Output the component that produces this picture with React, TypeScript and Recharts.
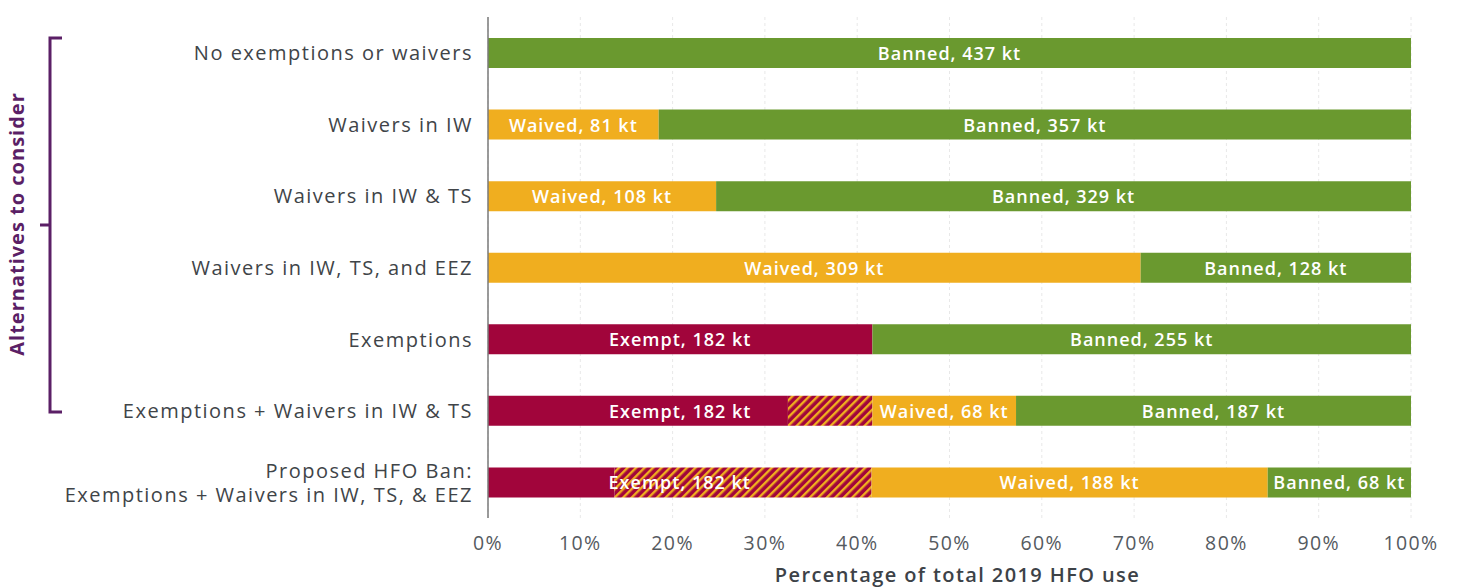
import React from "react";
import { BarChart, Bar, XAxis, YAxis, CartesianGrid, LabelList } from "recharts";

const categories = [
  "No exemptions or waivers",
  "Waivers in IW",
  "Waivers in IW & TS",
  "Waivers in IW, TS, and EEZ",
  "Exemptions",
  "Exemptions + Waivers in IW & TS",
  "Proposed HFO Ban:\nExemptions + Waivers in IW, TS, & EEZ",
];
const exemptSolid = [0, 0, 0, 0, 182, 142, 60];
const exemptHatched = [0, 0, 0, 0, 0, 40, 122];
const exemptTotal = [0, 0, 0, 0, 182, 182, 182];
const waived = [0, 81, 108, 309, 0, 68, 188];
const banned = [437, 357, 329, 128, 255, 187, 68];
const xTicks = [0, 0.1, 0.2, 0.3, 0.4, 0.5, 0.6, 0.7, 0.8, 0.9, 1];

const data = categories.map((c, i) => ({
  name: c,
  idx: i,
  exemptSolid: exemptSolid[i],
  exemptHatched: exemptHatched[i],
  waived: waived[i],
  banned: banned[i],
}));

const CRIMSON = "#a1053b";
const ORANGE = "#f0ae1f";
const GREEN = "#6a992f";
const FONT = "'Open Sans', sans-serif";

const labelStyle = {
  fill: "#ffffff",
  fontSize: 18,
  fontWeight: 600,
  letterSpacing: 1,
  fontFamily: FONT,
};

const makeLabel = (prefix: string, values: number[]) => (props: any) => {
  const { x, y, width, height, value } = props;
  const i = Number(value);
  const v = values[i];
  if (!v) return null;
  return (
    <text
      x={Number(x) + Number(width) / 2}
      y={Number(y) + Number(height) / 2}
      textAnchor="middle"
      dominantBaseline="central"
      style={labelStyle}
    >
      {`${prefix}, ${v} kt`}
    </text>
  );
};

const ExemptLabel = (props: any) => {
  const { x, y, width, height, value } = props;
  const i = Number(value);
  const solid = exemptSolid[i];
  if (!solid) return null;
  const total = exemptSolid[i] + exemptHatched[i];
  const fullW = (Number(width) * total) / solid;
  return (
    <text
      x={Number(x) + fullW / 2}
      y={Number(y) + Number(height) / 2}
      textAnchor="middle"
      dominantBaseline="central"
      style={labelStyle}
    >
      {`Exempt, ${exemptTotal[i]} kt`}
    </text>
  );
};

const CategoryTick = (props: any) => {
  const { x, y, payload } = props;
  const lines = String(payload.value).split("\n");
  const lh = 24;
  const start = -((lines.length - 1) * lh) / 2;
  return (
    <text
      x={x}
      y={y}
      textAnchor="end"
      style={{
        fill: "#404448",
        fontSize: 20,
        fontWeight: 500,
        letterSpacing: 1.5,
        fontFamily: FONT,
      }}
    >
      {lines.map((l, i) => (
        <tspan key={i} x={x} y={y + start + i * lh} dominantBaseline="central">
          {l}
        </tspan>
      ))}
    </text>
  );
};

export default function App() {
  return (
    <div style={{ position: "relative", width: 1450, height: 580, background: "#fff" }}>
      <BarChart
        width={1450}
        height={580}
        data={data}
        layout="vertical"
        stackOffset="expand"
        margin={{ top: 9, right: 47, left: 0, bottom: 10 }}
        barSize={30}
      >
        <defs>
          <pattern
            id="hatch"
            patternUnits="userSpaceOnUse"
            width={6}
            height={6}
            patternTransform="rotate(45)"
          >
            <rect x={0} y={0} width={6} height={6} fill={CRIMSON} />
            <rect x={0} y={0} width={2.4} height={6} fill={ORANGE} />
          </pattern>
        </defs>
        <CartesianGrid
          horizontal={false}
          vertical={true}
          stroke="#e8e8e8"
          strokeDasharray="3 3"
        />
        <XAxis
          type="number"
          domain={[0, 1]}
          ticks={xTicks}
          tickFormatter={(v: number) => `${Math.round(v * 100)}%`}
          axisLine={false}
          tickLine={false}
          tickMargin={12}
          height={60}
          tick={{ fill: "#555a5f", fontSize: 19.5, letterSpacing: 1.4, fontFamily: FONT }}
          label={{
            value: "Percentage of total 2019 HFO use",
            position: "insideBottom",
            offset: -4,
            dx: 8,
            style: {
              fill: "#3d4247",
              fontSize: 20,
              fontWeight: 600,
              letterSpacing: 1.4,
              fontFamily: FONT,
            },
          }}
        />
        <YAxis
          type="category"
          dataKey="name"
          width={480}
          axisLine={{ stroke: "#7a7a7a", strokeWidth: 1.5 }}
          tickLine={false}
          tickSize={0}
          tickMargin={15}
          tick={<CategoryTick />}
          interval={0}
        />
        <Bar dataKey="exemptSolid" stackId="a" fill={CRIMSON} isAnimationActive={false}>
          <LabelList dataKey="idx" content={<ExemptLabel />} />
        </Bar>
        <Bar dataKey="exemptHatched" stackId="a" fill="url(#hatch)" isAnimationActive={false} />
        <Bar dataKey="waived" stackId="a" fill={ORANGE} isAnimationActive={false}>
          <LabelList dataKey="idx" content={makeLabel("Waived", waived)} />
        </Bar>
        <Bar dataKey="banned" stackId="a" fill={GREEN} isAnimationActive={false}>
          <LabelList dataKey="idx" content={makeLabel("Banned", banned)} />
        </Bar>
      </BarChart>
      <svg
        width={90}
        height={430}
        style={{
          position: "absolute",
          left: -8,
          top: -8,
          overflow: "visible",
          pointerEvents: "none",
        }}
      >
        <path
          d="M62 38 L50 38 L50 412 L62 412 M50 225 L40 225"
          fill="none"
          stroke="#5b1f66"
          strokeWidth={3}
        />
        <text
          x={24}
          y={224}
          transform="rotate(-90 24 224)"
          textAnchor="middle"
          style={{
            fill: "#5b1f66",
            fontSize: 20,
            fontWeight: 700,
            letterSpacing: 1,
            fontFamily: FONT,
          }}
        >
          Alternatives to consider
        </text>
      </svg>
    </div>
  );
}
